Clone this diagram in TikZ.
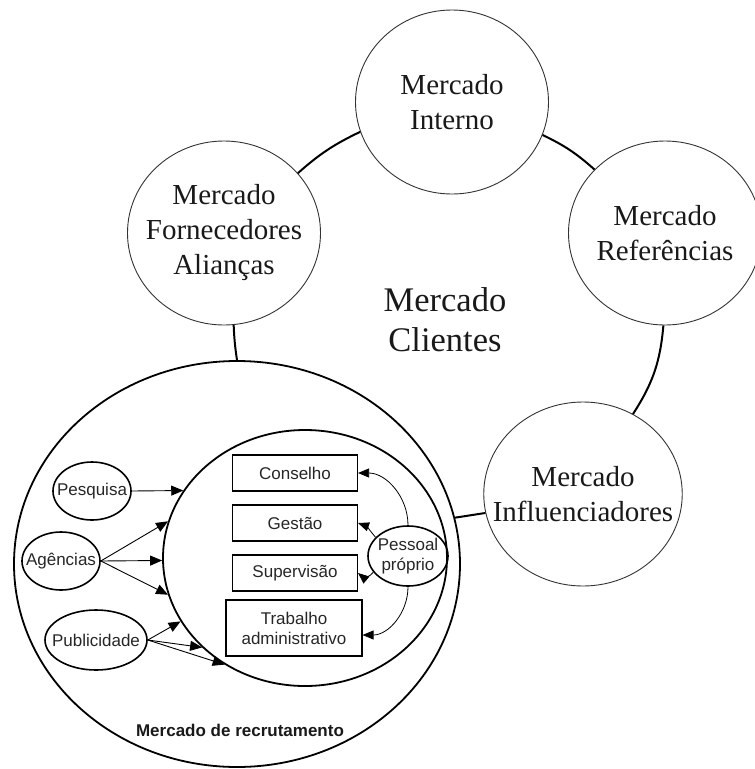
\documentclass[tikz,border=0pt]{standalone}
\usepackage{fontspec}
\setmainfont{Liberation Serif}
\setsansfont{Liberation Sans}
\usetikzlibrary{shapes.geometric,arrows.meta}

\begin{document}
\begin{tikzpicture}[x=1pt,y=1pt,
  market/.style={ellipse,draw=black!80,line width=0.9pt,minimum width=193pt,minimum height=184pt,
    inner sep=-20pt,align=center,font=\fontsize{29}{35}\selectfont,text=black!90},
  ring/.style={line width=2pt,black},
  zone/.style={ellipse,draw,line width=1.8pt,inner sep=0pt},
  source/.style={ellipse,draw,line width=1.6pt,inner sep=-15pt,align=center,
    font=\sffamily\fontsize{17}{20}\selectfont,text=black!85},
  level/.style={rectangle,draw,line width=1.1pt,minimum width=125pt,minimum height=36pt,
    inner sep=0pt,align=center,font=\sffamily\fontsize{17}{20}\selectfont,text=black!85},
  arr/.style={-{Triangle[length=12pt,width=10pt]},line width=0.9pt},
  feed/.style={-{Triangle[length=11pt,width=9pt]},line width=0.8pt}
]
\useasboundingbox (0,0) rectangle (755,-769);

% surrounding markets
\node[market] (int) at (452,-102) {Mercado\\Interno};
\node[market] (forn) at (224,-233) {Mercado\\Fornecedores\\Alianças};
\node[market] (ref) at (665,-233) {Mercado\\Referências};
\node[market] (infl) at (583,-494) {Mercado\\Influenciadores};

% central market label
\node[align=center,font=\fontsize{34.5}{40}\selectfont,text=black!90] (cli) at (445,-320) {Mercado\\Clientes};

% recruitment market
\node[zone,minimum width=446pt,minimum height=406pt] (rec) at (237,-564) {};
\node[zone,minimum width=284pt,minimum height=256pt] (inner) at (305,-558) {};
\node[font=\sffamily\bfseries\fontsize{17}{20}\selectfont,text=black!90] (rlabel) at (240,-730) {Mercado de recrutamento};

% ring of the client market
\draw[ring] (forn.39) to[bend left=8] (int.198);
\draw[ring] (int.340) to[bend left=8] (ref.138);
\draw[ring] (forn.276) to[bend right=3] (rec.north);
\draw[ring] (ref.269) to[bend left=14] (infl.58);
\draw[ring] (rec.12) -- (infl.191);

% hierarchy levels
\node[level] (cons) at (295,-473) {Conselho};
\node[level] (ges) at (295,-523) {Gestão};
\node[level] (sup) at (295,-573) {Supervisão};
\node[level,minimum width=136pt,minimum height=56pt] (trab) at (294,-628) {Trabalho\\administrativo};

% recruitment sources
\node[source,minimum width=78pt,minimum height=58pt] (pesq) at (92,-491) {Pesquisa};
\node[source,minimum width=78pt,minimum height=58pt] (ag) at (61,-561) {Agências};
\node[source,minimum width=102pt,minimum height=60pt] (pub) at (96,-640) {Publicidade};
\node[source,minimum width=80pt,minimum height=60pt] (pes) at (408,-556) {Pessoal\\próprio};

% flows into the organisation
\draw[arr] (pesq.east) -- (inner.151);
\draw[arr] (ag.east) -- (inner.165);
\draw[arr] (ag.east) -- (inner.181);
\draw[arr] (ag.east) -- (inner.195);
\draw[arr] (pub.east) -- (inner.207);
\draw[arr] (pub.east) -- (inner.221);
\draw[arr] (pub.east) -- (inner.233);

% internal promotion
\draw[feed] (pes.north) to[out=90,in=0] (cons.east);
\draw[feed] (pes.150) to[out=130,in=-20] (ges.east);
\draw[feed] (pes.205) to[out=-120,in=-40] (sup.east);
\draw[feed] (pes.south) to[out=-90,in=0] ([yshift=-7pt]trab.east);
\end{tikzpicture}
\end{document}
